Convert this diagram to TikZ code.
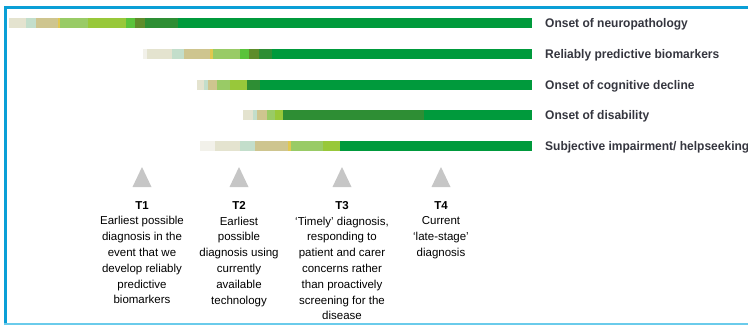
\documentclass[tikz,border=0pt]{standalone}
\usepackage{fontspec}
\usepackage{tikz}
\usetikzlibrary{positioning}
\setmainfont{Liberation Sans}
\newfontfamily\labelfont[FakeStretch=0.96]{Liberation Sans}
\definecolor{FrameBlue}{HTML}{0A9FD6}
\definecolor{FrameCyan}{HTML}{6ACBEB}
\definecolor{Faint}{HTML}{F2F1EA}
\definecolor{Beige}{HTML}{E4E3CF}
\definecolor{Mint}{HTML}{C3DECB}
\definecolor{Khaki}{HTML}{CEC58F}
\definecolor{Straw}{HTML}{E0C850}
\definecolor{LeafGreen}{HTML}{99CB66}
\definecolor{LimeGreen}{HTML}{98C83A}
\definecolor{BrightGreen}{HTML}{5AC33B}
\definecolor{Olive}{HTML}{5E8D2B}
\definecolor{DarkGreen}{HTML}{2E8E34}
\definecolor{MainGreen}{HTML}{009A3C}
\definecolor{LabelGray}{HTML}{35363F}
\definecolor{TriGray}{HTML}{C6C6C6}
\tikzset{
  frame/.style={draw=FrameBlue, line width=3pt},
  bottomframe/.style={draw=FrameCyan, line width=2pt},
  barlabel/.style={text=LabelGray, font=\labelfont\bfseries\fontsize{12.5}{14}\selectfont, anchor=base west, inner sep=0pt},
  pointer/.style={fill=TriGray},
  tnote/.style={black, font=\fontsize{11.5}{15.8}\selectfont, align=center, anchor=north, inner sep=0pt}
}

\begin{document}
\begin{tikzpicture}[x=1pt, y=-1pt]
  \useasboundingbox (0,0) rectangle (748,325);
  % frame
  \draw[frame] (4,7.5) -- (748,7.5);
  \draw[frame] (5.5,6) -- (5.5,324);
  \draw[bottomframe] (4,323.5) -- (748,323.5);
  % bars
  \foreach \y/\segs in {
    23.3/{9/26/Beige, 26/36/Mint, 36/58/Khaki, 58/60/Straw, 60/88/LeafGreen, 88/126/LimeGreen, 126/135/BrightGreen, 135/145/Olive, 145/178/DarkGreen, 178/532/MainGreen},
    53.7/{143/147/Faint, 147/172/Beige, 172/184/Mint, 184/210/Khaki, 210/213/Straw, 213/240/LeafGreen, 240/249/BrightGreen, 249/259/Olive, 259/272/DarkGreen, 272/532/MainGreen},
    84.7/{197/204/Beige, 204/208/Mint, 208/217/Khaki, 217/230/LeafGreen, 230/247/LimeGreen, 247/260/DarkGreen, 260/532/MainGreen},
    115.3/{243/253/Beige, 253/257/Mint, 257/267/Khaki, 267/275/LeafGreen, 275/283/LimeGreen, 283/424/DarkGreen, 424/532/MainGreen},
    145.5/{200/207/Faint, 207/215/Faint, 215/240/Beige, 240/255/Mint, 255/288/Khaki, 288/291/Straw, 291/323/LeafGreen, 323/340/LimeGreen, 340/532/MainGreen}}
  {
    \foreach \a/\b/\c in \segs
      \fill[\c] (\a,\y-5) rectangle (\b,\y+5);
  }
  % bar labels
  \node[barlabel] (neuro) at (545,27.8) {Onset of neuropathology};
  \node[barlabel] (markers) at (545,58.2) {Reliably predictive biomarkers};
  \node[barlabel] (cognit) at (545,89.2) {Onset of cognitive decline};
  \node[barlabel] (disab) at (545,119.8) {Onset of disability};
  \node[barlabel] (subj) at (545,150) {Subjective impairment/ helpseeking};
  % time points
  \foreach \x in {142,239,342,441}
    \fill[pointer] (\x,167) -- (\x+9.5,187) -- (\x-9.5,187) -- cycle;
  \node[tnote] (t1) at (142,201) {\textbf{T1}\\Earliest possible\\diagnosis in the\\event that we\\develop reliably\\predictive\\biomarkers};
  \node[tnote] (t2) at (239,201) {\textbf{T2}\\Earliest\\possible\\diagnosis using\\currently\\available\\technology};
  \node[tnote] (t3) at (342,201) {\textbf{T3}\\‘Timely’ diagnosis,\\responding to\\patient and carer\\concerns rather\\than proactively\\screening for the\\disease};
  \node[tnote] (t4) at (441,201) {\textbf{T4}\\Current\\‘late-stage’\\diagnosis};
\end{tikzpicture}
\end{document}
